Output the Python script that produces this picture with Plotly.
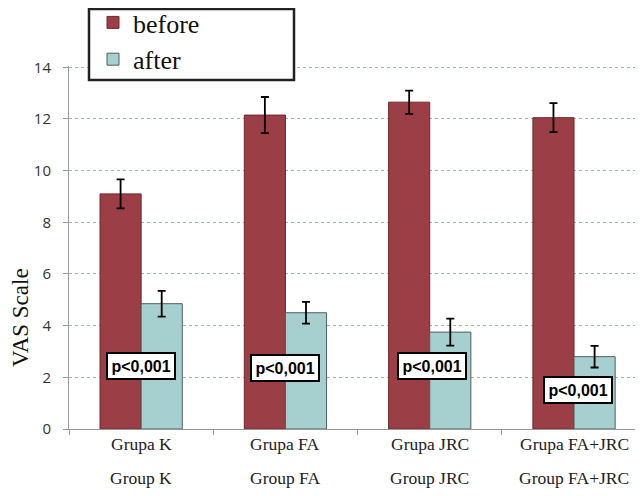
import plotly.graph_objects as go

groups = ["Grupa K", "Grupa FA", "Grupa JRC", "Grupa FA+JRC"]
groups_en = ["Group K", "Group FA", "Group JRC", "Group FA+JRC"]
before = [9.1, 12.15, 12.65, 12.05]
before_err = [0.56, 0.7, 0.45, 0.56]
after = [4.85, 4.5, 3.75, 2.8]
after_err = [0.5, 0.42, 0.52, 0.42]
p_labels = ["p<0,001", "p<0,001", "p<0,001", "p<0,001"]
y_ticks = [0, 2, 4, 6, 8, 10, 12, 14]

# annotation placement (layout only)
p_label_y = [2.44, 2.36, 2.42, 1.51]
p_label_xshift = [0, 0, 2, 4]

# plot area in window pixels (page body has an 8px margin)
PL, PW, PB, PH = 69, 574, 429, 363
def px(xw):
    return (xw - PL) / PW
def py(yw):
    return (PB - yw) / PH

fig = go.Figure()
fig.add_trace(go.Bar(
    x=groups, y=before, name="before",
    marker=dict(color="#9C3E45", line=dict(color="#6E2A2F", width=1)),
    error_y=dict(type="data", array=before_err, color="black", thickness=1.8, width=4),
))
fig.add_trace(go.Bar(
    x=groups, y=after, name="after",
    marker=dict(color="#A6CFCF", line=dict(color="#4F5F5F", width=1)),
    error_y=dict(type="data", array=after_err, color="black", thickness=1.8, width=4),
))

for g, lab, yy, xs in zip(groups, p_labels, p_label_y, p_label_xshift):
    fig.add_annotation(
        x=g, y=yy, xref="x", yref="y", text="<b>" + lab + "</b>", showarrow=False,
        xshift=xs,
        font=dict(family="Liberation Sans, Arial", size=16, color="black"),
        bgcolor="white", bordercolor="black", borderwidth=2, borderpad=3.5,
    )

serif = "Liberation Serif, Times New Roman"
for g, en in zip(groups, groups_en):
    fig.add_annotation(x=g, y=py(444), xref="x", yref="paper", text=g, showarrow=False,
                       yanchor="middle", font=dict(family=serif, size=17.5, color="#222"))
    fig.add_annotation(x=g, y=py(478), xref="x", yref="paper", text=en, showarrow=False,
                       yanchor="middle", font=dict(family=serif, size=17.5, color="#222"))

# y-axis title
fig.add_annotation(x=px(20), y=py(317), xref="paper", yref="paper", text="VAS Scale",
                   showarrow=False, textangle=-90, xanchor="center", yanchor="middle",
                   font=dict(family=serif, size=23, color="#111"))

# legend frame
fig.add_shape(type="rect", xref="paper", yref="paper", layer="above",
              x0=px(89), x1=px(294), y0=py(80), y1=py(9),
              line=dict(color="#222", width=2.5), fillcolor="white")

fig.update_layout(
    width=635, height=488,
    margin=dict(l=61, r=0, t=58, b=67, autoexpand=False),
    paper_bgcolor="white", plot_bgcolor="white",
    barmode="group", bargap=0.43, bargroupgap=0,
    showlegend=True,
    legend=dict(
        x=px(93), y=py(-1), xanchor="left", yanchor="top",
        borderwidth=0, bgcolor="rgba(0,0,0,0)",
        font=dict(family=serif, size=26, color="#111"),
        itemwidth=30, traceorder="normal",
    ),
    xaxis=dict(
        showticklabels=False, tickson="boundaries", ticks="outside", ticklen=5,
        tickcolor="#999", showline=True, linecolor="#999", linewidth=1,
        showgrid=False, range=[-0.5, 3.478],
    ),
    yaxis=dict(
        range=[0, 14.05], tickvals=y_ticks, ticks="outside", ticklen=5, tickcolor="#999",
        showline=True, linecolor="#999", linewidth=1,
        showgrid=True, gridcolor="#9FB3C6", griddash="dot", gridwidth=1,
        zeroline=False, ticklabelstandoff=9,
        tickfont=dict(family="Open Sans, Liberation Sans", size=15, color="#333"),
    ),
)

fig.write_html("out.html")
